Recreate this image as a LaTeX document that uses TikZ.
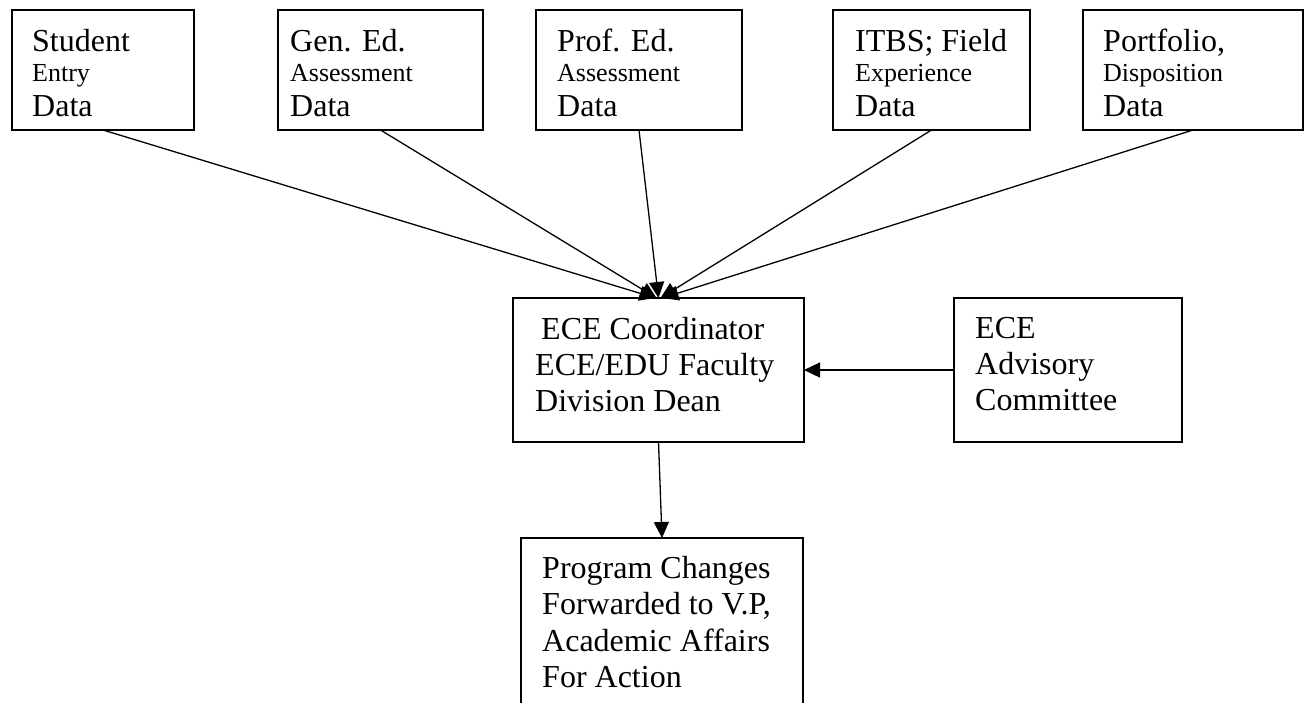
\documentclass[tikz,border=0pt]{standalone}
\usepackage{fontspec}
\setmainfont{Liberation Serif}
\usetikzlibrary{arrows.meta}
\newcommand\bigtxt{\fontsize{32}{36}\selectfont}
\newcommand\smalltxt{\fontsize{26}{30}\selectfont}
\begin{document}
\begin{tikzpicture}[x=1pt,y=-1pt,
  boxnode/.style={draw, line width=1.8pt, rectangle, anchor=north west, inner sep=0pt, outer sep=0pt},
  txt/.style={anchor=base west, inner sep=0pt, font=\bigtxt},
  conn/.style={line width=1.3pt, -{Triangle[length=16pt,width=15pt]}}]
\useasboundingbox (0,0) rectangle (1308,702);
\clip (0,0) rectangle (1308,702);
\fill[white] (0,0) rectangle (1308,702);

% top boxes
\node[boxnode, minimum width=182pt, minimum height=120pt] (s1) at (12,10) {};
\node[boxnode, minimum width=205pt, minimum height=120pt] (s2) at (278,10) {};
\node[boxnode, minimum width=206pt, minimum height=120pt] (s3) at (536,10) {};
\node[boxnode, minimum width=197pt, minimum height=120pt] (s4) at (833,10) {};
\node[boxnode, minimum width=220pt, minimum height=120pt] (s5) at (1083,10) {};
% middle boxes
\node[boxnode, minimum width=291pt, minimum height=144pt] (mid) at (513,298) {};
\node[boxnode, minimum width=228pt, minimum height=144pt] (adv) at (954,298) {};
% bottom box (runs off the page)
\node[boxnode, minimum width=282pt, minimum height=180pt] (out) at (521,538) {};

% texts
\node[txt] (s1t) at (32,51) {\parbox[t]{170pt}{\raggedright Student\\[-6pt]{\smalltxt Entry}\\[-1pt]Data}};
\node[txt] (s2t) at (290,51) {\parbox[t]{190pt}{\raggedright Gen. Ed.\\[-6pt]{\smalltxt Assessment}\\[-1pt]Data}};
\node[txt] (s3t) at (557,51) {\parbox[t]{180pt}{\raggedright Prof. Ed.\\[-6pt]{\smalltxt Assessment}\\[-1pt]Data}};
\node[txt] (s4t) at (855,51) {\parbox[t]{170pt}{\raggedright ITBS; Field\\[-6pt]{\smalltxt Experience}\\[-1pt]Data}};
\node[txt] (s5t) at (1103,51) {\parbox[t]{190pt}{\raggedright Portfolio,\\[-6pt]{\smalltxt Disposition}\\[-1pt]Data}};
\node[txt] (midt) at (535,339) {\parbox[t]{265pt}{\raggedright\hspace*{6pt}ECE Coordinator\\ECE/EDU Faculty\\Division Dean}};
\node[txt] (advt) at (975,338) {\parbox[t]{200pt}{\raggedright ECE\\Advisory\\Committee}};
\node[txt] (outt) at (542,578) {\parbox[t]{255pt}{\raggedright Program Changes\\[0.5pt]Forwarded to V.P,\\[0.5pt]Academic Affairs\\[0.5pt]For Action}};

% connectors
\draw[conn] (s1.south) -- ([xshift=-3pt]mid.north);
\draw[conn] (s2.south) -- ([xshift=-2pt]mid.north);
\draw[conn] (s3.south) -- ([xshift=0pt]mid.north);
\draw[conn] (s4.south) -- ([xshift=2pt]mid.north);
\draw[conn] (s5.south) -- ([xshift=4pt]mid.north);
\draw[conn] (adv.west) -- (mid.east);
\draw[conn] (mid.south) -- (out.north);
\end{tikzpicture}
\end{document}
